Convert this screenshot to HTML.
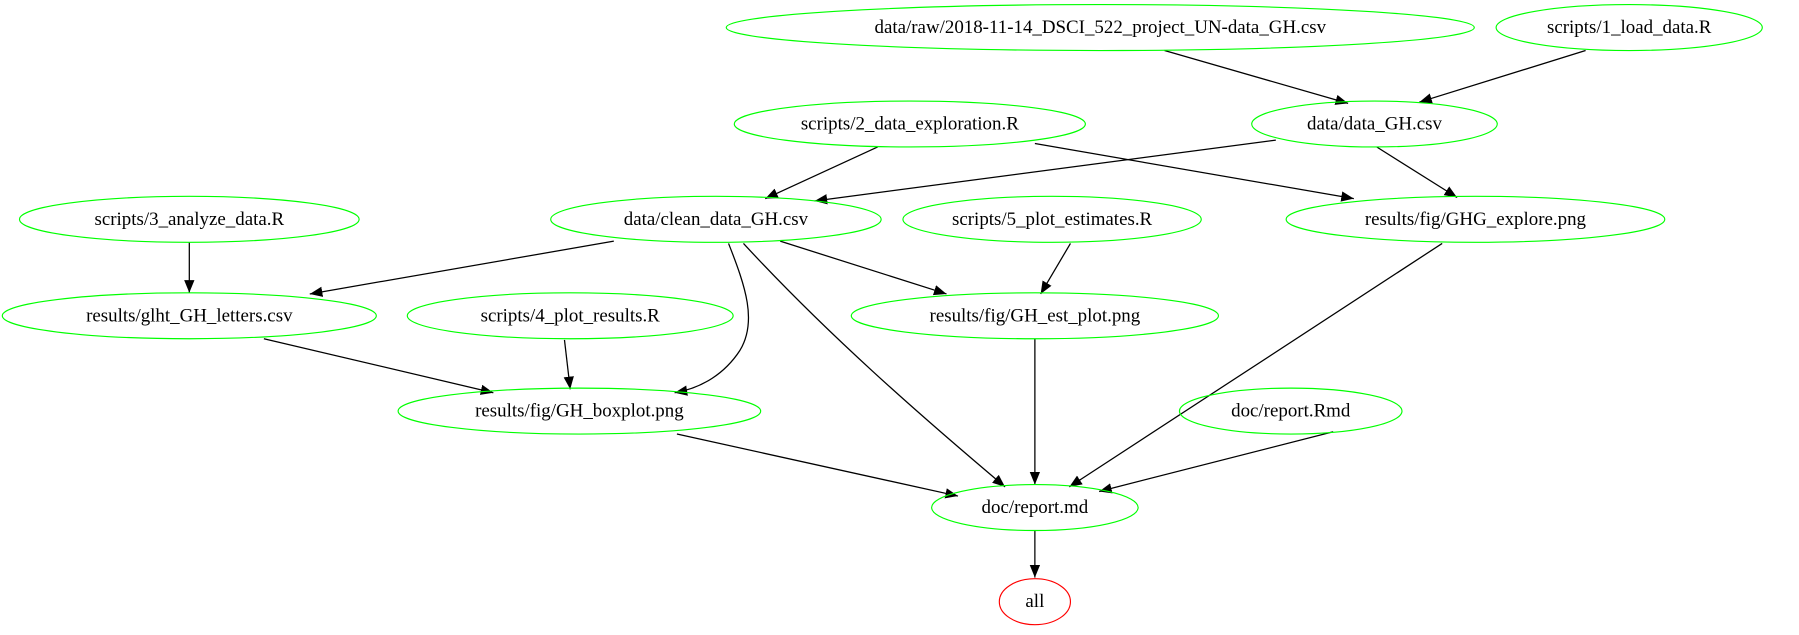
<!DOCTYPE html>
<html><head><meta charset="utf-8"><style>
html,body{margin:0;padding:0;background:#fff;}
svg{display:block;}
text{font-family:"Liberation Serif",serif;font-size:16.5px;fill:#000;text-anchor:middle;dominant-baseline:central;}
ellipse{fill:none;stroke:#00ff00;stroke-width:1;}
path.e{fill:none;stroke:#000;stroke-width:1.1;}
</style></head><body>
<svg width="1799" height="635" viewBox="0 0 1568 553" preserveAspectRatio="none" xmlns="http://www.w3.org/2000/svg">
<defs>
<marker id="a" markerUnits="userSpaceOnUse" markerWidth="13" markerHeight="11" refX="11" refY="4.5" orient="auto">
<path d="M0,0 L11,4.5 L0,9 Z" fill="#000"/>
</marker>
</defs>
<path class="e" marker-end="url(#a)" d="M1015,44 L1175,90"/>
<path class="e" marker-end="url(#a)" d="M1382,44 L1237,89"/>
<path class="e" marker-end="url(#a)" d="M765,128 L667,173"/>
<path class="e" marker-end="url(#a)" d="M1112,122 L710,175"/>
<path class="e" marker-end="url(#a)" d="M902,125 L1180,173"/>
<path class="e" marker-end="url(#a)" d="M1200,128 L1270,172"/>
<path class="e" marker-end="url(#a)" d="M165,211 L165,255"/>
<path class="e" marker-end="url(#a)" d="M535,210 L270,256"/>
<path class="e" marker-end="url(#a)" d="M680,210 L825,256"/>
<path class="e" marker-end="url(#a)" d="M933,212 L907,256"/>
<path class="e" marker-end="url(#a)" d="M635,212 C650,250 660,280 645,305 C632,325 612,338 588,342"/>
<path class="e" marker-end="url(#a)" d="M648,212 C720,290 800,360 876,424"/>
<path class="e" marker-end="url(#a)" d="M230,295 L430,342"/>
<path class="e" marker-end="url(#a)" d="M492,296 L497,339"/>
<path class="e" marker-end="url(#a)" d="M902,295 L902,422"/>
<path class="e" marker-end="url(#a)" d="M1257,212 L932,424"/>
<path class="e" marker-end="url(#a)" d="M590,378 L835,432"/>
<path class="e" marker-end="url(#a)" d="M1162,376 L958,428"/>
<path class="e" marker-end="url(#a)" d="M902,462 L902,503"/>
<ellipse cx="959" cy="24" rx="326" ry="20"/><text x="959" y="24">data/raw/2018-11-14_DSCI_522_project_UN-data_GH.csv</text>
<ellipse cx="1420" cy="24" rx="116" ry="20"/><text x="1420" y="24">scripts/1_load_data.R</text>
<ellipse cx="793" cy="108" rx="153" ry="20"/><text x="793" y="108">scripts/2_data_exploration.R</text>
<ellipse cx="1198" cy="108" rx="107" ry="20"/><text x="1198" y="108">data/data_GH.csv</text>
<ellipse cx="165" cy="191" rx="148" ry="20"/><text x="165" y="191">scripts/3_analyze_data.R</text>
<ellipse cx="624" cy="191" rx="144" ry="20"/><text x="624" y="191">data/clean_data_GH.csv</text>
<ellipse cx="917" cy="191" rx="130" ry="20"/><text x="917" y="191">scripts/5_plot_estimates.R</text>
<ellipse cx="1286" cy="191" rx="165" ry="20"/><text x="1286" y="191">results/fig/GHG_explore.png</text>
<ellipse cx="165" cy="275" rx="163" ry="20"/><text x="165" y="275">results/glht_GH_letters.csv</text>
<ellipse cx="497" cy="275" rx="142" ry="20"/><text x="497" y="275">scripts/4_plot_results.R</text>
<ellipse cx="902" cy="275" rx="160" ry="20"/><text x="902" y="275">results/fig/GH_est_plot.png</text>
<ellipse cx="505" cy="358" rx="158" ry="20"/><text x="505" y="358">results/fig/GH_boxplot.png</text>
<ellipse cx="1125" cy="358" rx="97" ry="20"/><text x="1125" y="358">doc/report.Rmd</text>
<ellipse cx="902" cy="442" rx="90" ry="20"/><text x="902" y="442">doc/report.md</text>
<ellipse cx="902" cy="524" rx="31" ry="20" style="stroke:#ff0000"/><text x="902" y="524">all</text>
</svg>
</body></html>
